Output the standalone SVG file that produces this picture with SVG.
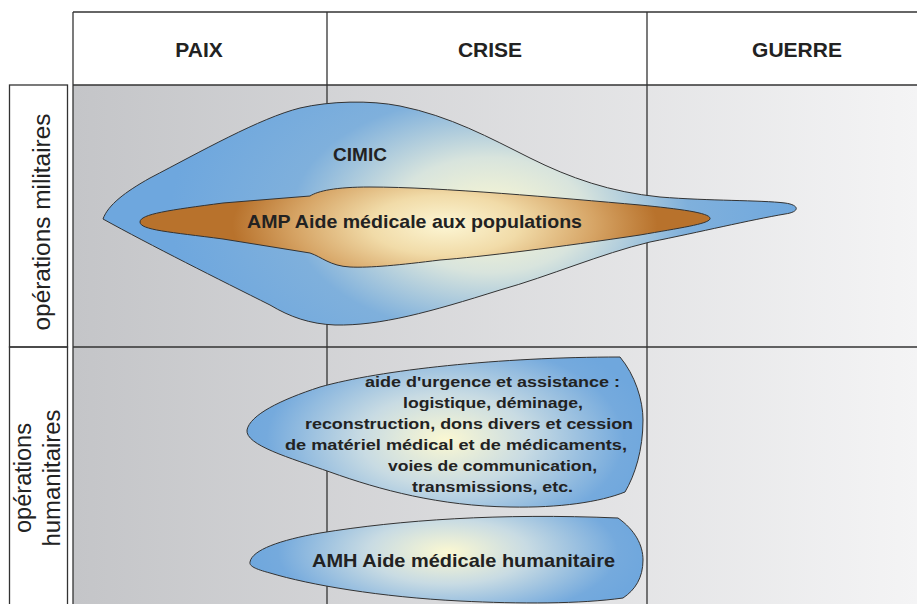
<svg xmlns="http://www.w3.org/2000/svg" width="917" height="604" viewBox="0 0 917 604">
<defs>
<style>
.grid{stroke:#333;stroke-width:1.3;fill:none}
.lbl{font-family:"Liberation Sans",Arial,sans-serif;fill:#222}
.hdr{font-family:"Liberation Sans",Arial,sans-serif;font-weight:bold;font-size:21px;fill:#222;text-anchor:middle}
.shp{stroke:#333;stroke-width:1}
.t{font-family:"Liberation Sans",Arial,sans-serif;font-weight:bold;fill:#222;text-anchor:middle}
</style>
<linearGradient id="bg" gradientUnits="userSpaceOnUse" x1="73" y1="0" x2="917" y2="0">
<stop offset="0" stop-color="#c4c5c8"/>
<stop offset="1" stop-color="#f4f4f5"/>
</linearGradient>
<radialGradient id="gCimic" gradientUnits="userSpaceOnUse" cx="490" cy="215" r="320" gradientTransform="translate(490 215) scale(1 0.6) translate(-490 -215)">
<stop offset="0" stop-color="#fbf8d2"/>
<stop offset="0.3" stop-color="#d8e4dd"/>
<stop offset="0.62" stop-color="#7fb0dc"/>
<stop offset="1" stop-color="#6ea7de"/>
</radialGradient>
<radialGradient id="gAmp" gradientUnits="userSpaceOnUse" cx="445" cy="225" r="250" gradientTransform="translate(445 225) scale(1 0.4) translate(-445 -225)">
<stop offset="0" stop-color="#fcf6d4"/>
<stop offset="0.3" stop-color="#f1dba8"/>
<stop offset="0.6" stop-color="#d6a465"/>
<stop offset="0.85" stop-color="#b8722c"/>
<stop offset="1" stop-color="#b8722c"/>
</radialGradient>
<radialGradient id="gHum1" gradientUnits="userSpaceOnUse" cx="445" cy="440" r="210" gradientTransform="translate(445 440) scale(1 0.55) translate(-445 -440)">
<stop offset="0" stop-color="#fbf8d2"/>
<stop offset="0.4" stop-color="#c8dbe3"/>
<stop offset="0.85" stop-color="#75aadd"/>
<stop offset="1" stop-color="#6fa7dd"/>
</radialGradient>
<radialGradient id="gHum2" gradientUnits="userSpaceOnUse" cx="448" cy="552" r="200" gradientTransform="translate(448 552) scale(1 0.4) translate(-448 -552)">
<stop offset="0" stop-color="#fbf8d2"/>
<stop offset="0.4" stop-color="#c8dbe3"/>
<stop offset="0.85" stop-color="#75aadd"/>
<stop offset="1" stop-color="#6fa7dd"/>
</radialGradient>
</defs>
<rect width="917" height="604" fill="#fff"/>
<g id="grid">
<rect x="73" y="85" width="844" height="519" fill="url(#bg)"/>
<line class="grid" x1="73" y1="12" x2="917" y2="12"/>
<line class="grid" x1="73" y1="85" x2="917" y2="85"/>
<line class="grid" x1="73" y1="347" x2="917" y2="347"/>
<line class="grid" x1="73" y1="12" x2="73" y2="604"/>
<line class="grid" x1="327" y1="12" x2="327" y2="604"/>
<line class="grid" x1="647" y1="12" x2="647" y2="604"/>
<rect class="grid" x="9.5" y="85" width="58" height="262" fill="#fff"/>
<rect class="grid" x="9.5" y="347" width="58" height="270" fill="#fff"/>
</g>
<g id="headers">
<text class="hdr" x="199" y="57">PAIX</text>
<text class="hdr" x="490" y="57">CRISE</text>
<text class="hdr" x="797" y="57">GUERRE</text>
</g>
<g id="row-militaires">
<text class="lbl" font-size="23" text-anchor="middle" transform="translate(50 222) rotate(-90)" textLength="217" lengthAdjust="spacingAndGlyphs">opérations militaires</text>
</g>
<g id="row-humanitaires">
<text class="lbl" font-size="23" text-anchor="middle" transform="translate(31 478) rotate(-90)" textLength="110" lengthAdjust="spacingAndGlyphs">opérations</text>
<text class="lbl" font-size="23" text-anchor="middle" transform="translate(60 478) rotate(-90)" textLength="137" lengthAdjust="spacingAndGlyphs">humanitaires</text>
</g>
<g id="cimic">
<path class="shp" fill="url(#gCimic)" d="M103,219 C108,205 125,192 150,178 C200,152 260,118 300,108 C330,101 370,100 400,106 C450,116 490,138 530,158 C570,178 610,192 660,197 C710,201 760,200 785,203 C800,205 800,212 785,214 C750,220 700,232 650,242 C600,254 550,276 500,290 C430,312 380,326 335,325 C310,324 290,317 270,305 C220,280 150,245 103,219 Z"/>
<text class="t" font-size="19" x="360" y="161">CIMIC</text>
</g>
<g id="amp">
<path class="shp" fill="url(#gAmp)" d="M140,222 C140,214 170,210 223,203 L310,196 C318,191 335,187 370,187 C440,187 560,198 640,205 C680,209 712,213 710,219 C708,224 680,228 640,235 C560,247 480,257 440,260 C400,265 370,268 350,267 C330,266 322,257 310,253 L223,239 C170,232 140,230 140,222 Z"/>
<text class="t" font-size="18.5" x="414.5" y="228" textLength="335" lengthAdjust="spacingAndGlyphs">AMP Aide médicale aux populations</text>
</g>
<g id="aide-urgence">
<path class="shp" fill="url(#gHum1)" d="M247,430 C250,415 280,400 320,387 C380,370 500,357 620,357 C635,375 643,400 643,420 C643,450 635,475 625,492 C600,502 560,508 510,507 C440,506 380,490 330,472 C290,458 245,445 247,430 Z"/>
<g font-size="15.5">
<text class="t" x="492.5" y="387" textLength="255" lengthAdjust="spacingAndGlyphs">aide d'urgence et assistance :</text>
<text class="t" x="493" y="408" textLength="180" lengthAdjust="spacingAndGlyphs">logistique, déminage,</text>
<text class="t" x="469" y="429" textLength="328" lengthAdjust="spacingAndGlyphs">reconstruction, dons divers et cession</text>
<text class="t" x="456" y="450" textLength="342" lengthAdjust="spacingAndGlyphs">de matériel médical et de médicaments,</text>
<text class="t" x="492.5" y="471" textLength="209" lengthAdjust="spacingAndGlyphs">voies de communication,</text>
<text class="t" x="492.5" y="492" textLength="161" lengthAdjust="spacingAndGlyphs">transmissions, etc.</text>
</g>
</g>
<g id="amh">
<path class="shp" fill="url(#gHum2)" d="M250,562 C252,550 280,540 320,533 C400,520 500,513 618,518 C635,530 643,545 643,560 C643,578 635,590 623,598 C580,604 520,604 460,601 C380,597 310,585 270,573 C255,569 249,566 250,562 Z"/>
<text class="t" font-size="18.5" x="463.5" y="567" textLength="303" lengthAdjust="spacingAndGlyphs">AMH Aide médicale humanitaire</text>
</g>
<g id="connectors"></g>
</svg>
